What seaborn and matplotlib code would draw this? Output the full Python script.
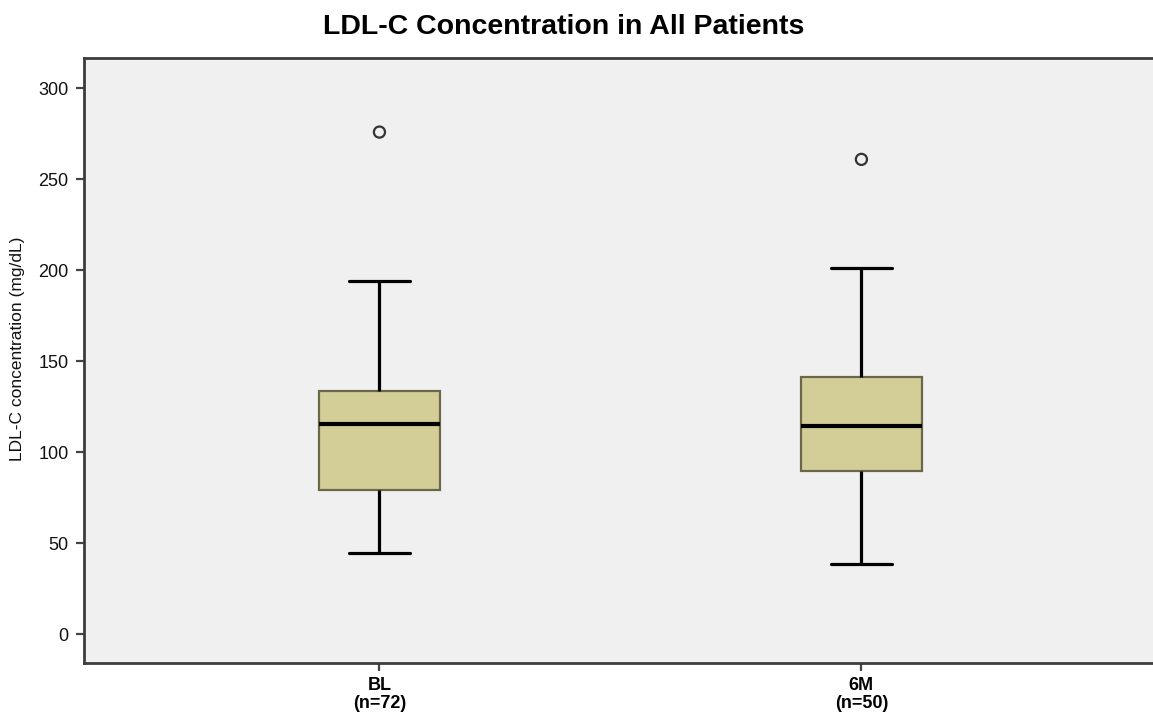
import numpy as np
import pandas as pd
import matplotlib
matplotlib.use("Agg")
import matplotlib.pyplot as plt
import seaborn as sns

# ---- data ----
groups = ["BL", "6M"]
n_patients = [72, 50]
whisker_low = [44.5, 38.3]
q1 = [79.1, 89.7]
median = [115.2, 114.3]
q3 = [133.7, 141.0]
whisker_high = [194.0, 201.0]
outliers = [275.8, 260.8]
y_ticks = [0, 50, 100, 150, 200, 250, 300]

tick_labels = [f"{g}\n(n={n})" for g, n in zip(groups, n_patients)]

rows = []
for g, lo, a, m, b, hi in zip(groups, whisker_low, q1, median, q3, whisker_high):
    for v in (lo, a, m, b, hi):
        rows.append({"group": g, "value": v})
box_df = pd.DataFrame(rows)
out_df = pd.DataFrame({"group": groups, "value": outliers})

sns.set_theme(style="ticks")
plt.rcParams["font.family"] = ["Liberation Sans", "DejaVu Sans"]
plt.rcParams["text.color"] = "black"
plt.rcParams["axes.labelcolor"] = "black"
plt.rcParams["xtick.labelcolor"] = "black"
plt.rcParams["ytick.labelcolor"] = "black"

W, H = 1153, 724
fig = plt.figure(figsize=(W / 100, H / 100), dpi=100)
fig.patch.set_facecolor("white")
ax = fig.add_axes([84 / W, (H - 663) / H, (W - 84) / W, (663 - 58) / H])
ax.set_facecolor("#f0f0f0")

sns.boxplot(
    data=box_df, x="group", y="value", order=groups, ax=ax,
    color="#d3ce98", saturation=1, width=0.251, showfliers=False,
    boxprops=dict(edgecolor="#6b6848", linewidth=1.6),
    whiskerprops=dict(color="black", linewidth=2.3),
    capprops=dict(color="black", linewidth=2.3),
    medianprops=dict(color="black", linewidth=3.0),
)

n_before = len(ax.collections)
sns.stripplot(
    data=out_df, x="group", y="value", order=groups, ax=ax,
    jitter=False, size=8, color="#333333", linewidth=1.6, edgecolor="#333333",
)
for coll in ax.collections[n_before:]:
    coll.set_facecolor("none")
    coll.set_edgecolor("#333333")
    coll.set_linewidth(1.6)

ax.set_xlim(-0.613, 1.605)
ax.set_ylim(-15.9, 316.5)
ax.set_yticks(y_ticks)
ax.set_yticklabels([str(t) for t in y_ticks], fontsize=13, color="#111111")
ax.set_xticks([0, 1])
ax.set_xticklabels(tick_labels, fontsize=13, fontweight="bold", color="black",
                   family=["Liberation Sans Narrow", "Liberation Sans", "DejaVu Sans"],
                   linespacing=1.05)
ax.set_xlabel("")
ax.set_ylabel("LDL-C concentration (mg/dL)", fontsize=12.5, color="#111111")
ax.yaxis.set_label_coords(-0.0552, 0.52)

ax.tick_params(axis="y", direction="out", length=6, width=1.6, color="#444444", pad=5, left=True)
ax.tick_params(axis="x", direction="out", length=6, width=1.6, color="#444444", pad=4, bottom=True)

for side in ("left", "top", "bottom"):
    ax.spines[side].set_visible(True)
    ax.spines[side].set_color("#3c3c3c")
    ax.spines[side].set_linewidth(2.0)
ax.spines["right"].set_visible(False)

fig.text(564 / W, 1 - 27 / H, "LDL-C Concentration in All Patients",
         ha="center", va="center", fontsize=20.5, fontweight="bold", color="black")

fig.savefig("out.png", dpi=100)
